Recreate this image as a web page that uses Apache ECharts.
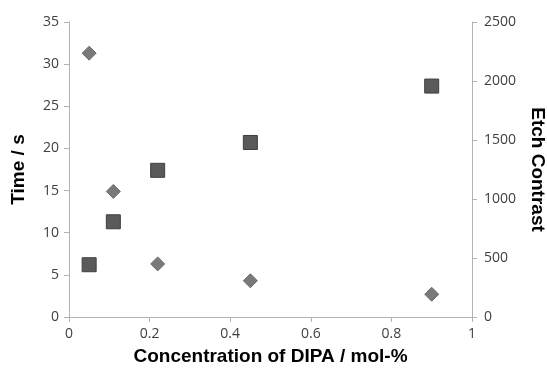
<!DOCTYPE html>
<html>
<head>
<meta charset="utf-8">
<script src="https://cdn.jsdelivr.net/npm/echarts@6/dist/echarts.min.js"></script>
<style>
  html, body { margin: 0; padding: 0; background: #fff; }
  #chart { width: 547px; height: 373px; }
</style>
</head>
<body>
<div id="chart"></div>
<script>
// DIPA concentration (mol-%)
const conc = [0.05, 0.11, 0.22, 0.45, 0.9];
// development time, left axis
const timeS = [31.3, 14.9, 6.3, 4.3, 2.7];
// etch contrast, right axis
const etchContrast = [443, 807, 1243, 1479, 1957];

const chart = echarts.init(document.getElementById('chart'));

const axisLine = { lineStyle: { color: '#b3b3b3', width: 1 } };
const axisTick = { show: true, length: 5, lineStyle: { color: '#b3b3b3' } };
const axisLabel = { color: '#404040', fontSize: 14, fontFamily: 'Open Sans', formatter: v => String(v) };
const nameStyle = { color: '#000', fontSize: 19, fontWeight: 'bold', fontFamily: 'Liberation Sans' };

chart.setOption({
  animation: false,
  grid: { left: 69, right: 75, top: 22, bottom: 56, containLabel: false, outerBoundsMode: 'none' },
  xAxis: {
    type: 'value',
    min: 0, max: 1, interval: 0.2,
    name: 'Concentration of DIPA / mol-%',
    nameLocation: 'middle',
    nameGap: 30,
    nameTextStyle: nameStyle,
    axisLine, axisTick,
    axisLabel: Object.assign({}, axisLabel, { margin: 10 }),
    splitLine: { show: false }
  },
  yAxis: [
    {
      type: 'value',
      min: 0, max: 35, interval: 5,
      name: 'Time / s',
      nameLocation: 'middle',
      nameGap: 41,
      nameTextStyle: nameStyle,
      axisLine: Object.assign({ show: true }, axisLine),
      axisTick,
      axisLabel: Object.assign({}, axisLabel, { margin: 10 }),
      splitLine: { show: false }
    },
    {
      type: 'value',
      min: 0, max: 2500, interval: 500,
      position: 'right',
      name: 'Etch Contrast',
      nameLocation: 'middle',
      nameRotate: -90,
      nameGap: 56,
      nameTextStyle: nameStyle,
      axisLine: Object.assign({ show: true }, axisLine),
      axisTick,
      axisLabel: Object.assign({}, axisLabel, { margin: 12 }),
      splitLine: { show: false }
    }
  ],
  series: [
    {
      name: 'Time',
      type: 'scatter',
      yAxisIndex: 0,
      symbol: 'diamond',
      symbolSize: 14,
      itemStyle: { color: '#7a7a7a', borderColor: '#6a6a6a', borderWidth: 1, opacity: 1 },
      data: conc.map((c, i) => [c, timeS[i]])
    },
    {
      name: 'Etch Contrast',
      type: 'scatter',
      yAxisIndex: 1,
      symbol: 'rect',
      symbolSize: 14,
      itemStyle: { color: '#5a5a5a', borderColor: '#3f3f3f', borderWidth: 1, opacity: 1 },
      data: conc.map((c, i) => [c, etchContrast[i]])
    }
  ]
});
</script>
</body>
</html>
